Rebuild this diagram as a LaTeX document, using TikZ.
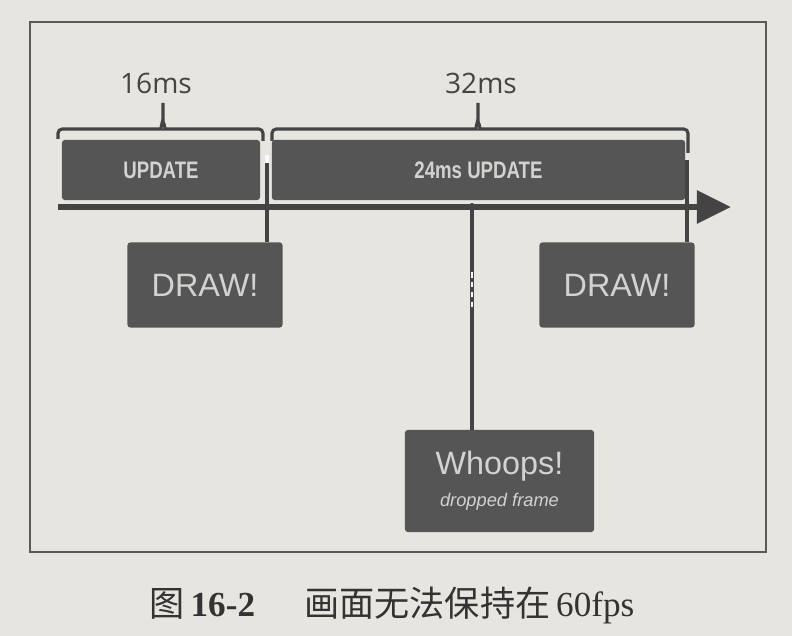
\documentclass[tikz,border=0pt]{standalone}
\usepackage{fontspec}
\usepackage{xcolor}
\usepackage{tikz}
\usetikzlibrary{arrows.meta, positioning}
\setmainfont{Liberation Sans}
\newfontfamily\labelfont{Open Sans}
\newfontfamily\condfont[FakeStretch=0.78]{Liberation Sans}
\newfontfamily\capserif{Liberation Serif}
\newfontfamily\cjk{Noto Sans CJK SC}
\definecolor{paper}{HTML}{E7E5E0}
\definecolor{boxgray}{HTML}{555555}
\definecolor{boxtext}{HTML}{D2D2D0}
\definecolor{linegray}{HTML}{444444}
\definecolor{framegray}{HTML}{5A5A5A}

\begin{document}
\begin{tikzpicture}[
  x=0.025cm, y=-0.025cm,
  blk/.style={fill=boxgray, rounded corners=2pt, inner sep=0pt, text=boxtext, align=center},
  upd/.style={blk, minimum height=1.5cm, font=\condfont\bfseries\fontsize{17}{17}\selectfont},
  drw/.style={blk, minimum width=3.875cm, minimum height=2.125cm, font=\fontsize{23}{23}\selectfont},
  ms/.style={text=linegray, font=\labelfont\fontsize{20}{20}\selectfont},
  brace/.style={linegray, line width=2.2pt, rounded corners=3pt},
  conn/.style={linegray, line width=2.2pt},
  arr/.style={-{Triangle[length=0.85cm, width=0.8cm]}, linegray, line width=3.8pt}
]
\fill[paper] (0,0) rectangle (792,636);
\useasboundingbox (0,0) rectangle (792,636);
\draw[framegray, line width=1.4pt] (30,22) rectangle (766,552);

\node[ms] (l16) at (156,83) {16ms};
\node[ms] (l32) at (481,83) {32ms};

\draw[brace] (58,139) |- (157,129) to[out=0,in=90] (163,123) -- (163,103);
\draw[brace] (163,123) to[out=90,in=180] (169,129) -| (263,141);
\draw[brace] (272,141) |- (472,129) to[out=0,in=90] (478,123) -- (478,103);
\draw[brace] (478,123) to[out=90,in=180] (484,129) -| (688,153);

\coordinate (t0) at (58,207);
\coordinate (t1) at (731,207);
\draw[arr] (t0) -- (t1);

\node[upd, minimum width=4.95cm] (upd16) at (161,170) {UPDATE};
\node[upd, minimum width=10.33cm] (upd24) at (478.5,170) {24ms UPDATE};

\node[drw] (draw1) at (205,285) {DRAW!};
\node[drw] (draw2) at (617,285) {DRAW!};
\node[blk, minimum width=4.725cm, minimum height=2.55cm, font=\fontsize{23}{26}\selectfont] (whoops) at (499.5,481)
  {Whoops!\\[-3pt]{\itshape\fontsize{13}{14}\selectfont dropped frame}};

\coordinate (j1) at (267,162);
\coordinate (j2) at (472,207);
\coordinate (j3) at (687,160);
\draw[conn] (j1) -- (j1 |- draw1.north);
\draw[conn] (j2) -- (j2 |- whoops.north);
\draw[conn] (j3) -- (j3 |- draw2.north);
\draw[white, line width=1.2pt, dash pattern=on 4pt off 3pt] (472,272) -- (472,310);
\node[fill=white!80!paper, inner sep=0pt, minimum width=0.11cm, minimum height=0.2cm] (gap) at (267,159) {};
\foreach \j in {j1,j2,j3}
  \fill[linegray] (\j |- t0) circle (4);

\node[text=black!80, font=\fontsize{25}{25}\selectfont] (cap) at (392,605)
  {{\cjk 图}\,{\capserif\bfseries 16-2}\hspace{1.4em}{\cjk 画面无法保持在}\,{\capserif 60fps}};
\end{tikzpicture}
\end{document}
